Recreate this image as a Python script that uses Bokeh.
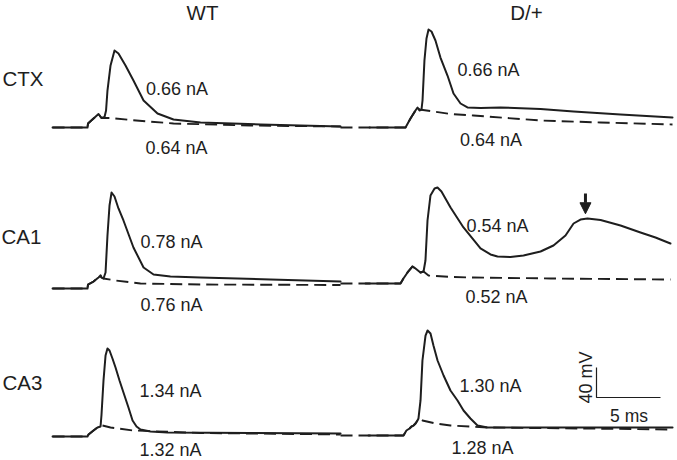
import math
from bokeh.plotting import figure
from bokeh.models import Range1d, Label, Arrow, NormalHead
from bokeh.embed import file_html
from bokeh.resources import INLINE

# ---------------- data (time in ms from stimulus onset, voltage in mV above baseline) ----------------
columns = ["WT", "D/+"]
rows = ["CTX", "CA1", "CA3"]

# WT CTX
wt_ctx_t = [-2.73, 0, 0.04, 0.47, 0.86, 1.09, 1.33, 1.45, 1.56, 1.80, 2.11, 2.42, 2.97, 3.59, 4.38, 5.47, 6.72, 8.83, 13.52, 19.77]
wt_ctx_v = [0, 0, 5.3, 12, 18, 12.7, 14, 22.7, 49.3, 82.7, 102.7, 98.7, 82.7, 62.7, 36, 18.7, 10.7, 6.7, 4, 1.3]
wt_ctx_dt = [-2.73, 0, 0.04, 0.47, 0.86, 1.09, 1.80, 3.36, 6.72, 12.73, 19.77]
wt_ctx_dv = [0, 0, 5.3, 12, 18, 12.7, 12.7, 10, 5.3, 2.7, 1.3]

# D/+ CTX
dp_ctx_t = [-2.81, 0, 0.39, 0.78, 0.94, 1.09, 1.25, 1.33, 1.48, 1.64, 1.80, 2.03, 2.34, 2.73, 3.28, 3.75, 4.30, 4.84, 5.86, 7.42, 10.55, 13.13, 16.80, 20.86]
dp_ctx_v = [0, 0, 12, 22.7, 26.7, 22.7, 24, 36, 89.3, 118.7, 130.7, 128, 116, 93.3, 69.3, 45.3, 32, 26.7, 26, 26.7, 24.7, 21.3, 17.3, 13.3]
dp_ctx_dt = [-5.08, 0, 0.39, 0.78, 0.94, 1.09, 1.95, 3.52, 5.31, 10.55, 15.23, 20.86]
dp_ctx_dv = [0, 0, 12, 22.7, 26.7, 24, 22, 18, 16, 9.3, 6.7, 4]

# WT CA1
wt_ca1_t = [-2.73, 0, 0.04, 0.47, 0.86, 1.02, 1.09, 1.25, 1.41, 1.56, 1.72, 1.88, 2.11, 2.42, 2.81, 3.59, 4.38, 5.16, 6.48, 8.83, 14.30, 19.77]
wt_ca1_v = [0, 0, 5.3, 9.3, 14.7, 17.3, 14.7, 13.3, 21.3, 70.7, 110.7, 128, 122.7, 106.7, 90.7, 54.7, 28, 18.7, 16, 14.7, 12, 9.3]
wt_ca1_dt = [-2.73, 0, 0.04, 0.47, 0.86, 1.02, 1.09, 1.25, 2.19, 4.14, 8.83, 19.77]
wt_ca1_dv = [0, 0, 5.3, 9.3, 14.7, 17.3, 14.7, 13.3, 10.7, 6.7, 5.3, 4.7]

# D/+ CA1
dp_ca1_t = [-2.73, 0, 0.23, 0.55, 0.94, 1.17, 1.56, 1.80, 1.95, 2.11, 2.34, 2.66, 2.89, 3.20, 3.91, 4.92, 6.25, 7.03, 7.58, 8.59, 9.61, 10.94, 11.95, 12.89, 13.52, 14.06, 14.61, 15.63, 17.19, 18.75, 19.92, 21.09]
dp_ca1_v = [0, 0, 6.7, 14.7, 22.7, 20, 14.7, 16, 30.7, 84, 117.3, 126.7, 128, 122.7, 101.3, 74.7, 46.7, 38.7, 36, 35.3, 37.3, 42.7, 50.7, 64, 80, 85.3, 86.7, 84.7, 77.3, 68, 61.3, 53.3]
dp_ca1_dt = [-4.69, 0, 0.23, 0.55, 0.94, 1.17, 1.56, 1.80, 2.19, 3.91, 5.70, 11.72, 21.09]
dp_ca1_dv = [0, 0, 6.7, 14.7, 22.7, 20, 14.7, 16, 10.7, 8.7, 8, 6.7, 5.3]
# arrow marking the late depolarisation (ms, mV)
arrow_t = 14.45
arrow_v_from = 120
arrow_v_to = 93

# WT CA3
wt_ca3_t = [-2.73, 0, 0.08, 0.47, 0.78, 1.02, 1.09, 1.25, 1.41, 1.56, 1.72, 1.95, 2.19, 2.50, 2.81, 3.20, 3.52, 3.83, 4.14, 4.92, 6.25, 12.73, 19.77]
wt_ca3_v = [0, 0, 2.7, 8, 12, 13.3, 28, 74.7, 108, 117.3, 114.7, 104, 92, 74.7, 58.7, 38.7, 21.3, 13.3, 9.3, 6.7, 5.3, 4.7, 4]
wt_ca3_dt = [-2.73, 0, 0.08, 0.47, 0.78, 1.02, 1.17, 1.80, 3.59, 8.83, 19.77]
wt_ca3_dv = [0, 0, 2.7, 8, 12, 13.3, 14.7, 12, 8, 4.7, 2.7]

# D/+ CA3
dp_ca3_t = [-2.73, 0, 0.23, 0.47, 0.63, 0.78, 0.94, 1.09, 1.17, 1.33, 1.48, 1.72, 1.88, 2.11, 2.34, 2.66, 3.13, 3.67, 4.22, 4.69, 5.23, 5.78, 6.56, 11.48, 21.02]
dp_ca3_v = [0, 0, 6.7, 9.3, 12, 13.3, 16, 20, 22.7, 46.7, 100, 133.3, 140, 136, 120, 100, 80, 60, 46.7, 33.3, 22.7, 13.3, 10.7, 10.7, 10.7]
dp_ca3_dt = [-4.92, 0, 0.23, 0.47, 0.63, 0.78, 0.94, 1.09, 1.17, 1.48, 2.50, 3.67, 6.56, 21.02]
dp_ca3_dv = [0, 0, 6.7, 9.3, 12, 13.3, 16, 20, 22.7, 20, 16, 13.3, 10.7, 8]

# current thresholds (solid, dashed)
wt_ctx_labels = ["0.66 nA", "0.64 nA"]
dp_ctx_labels = ["0.66 nA", "0.64 nA"]
wt_ca1_labels = ["0.78 nA", "0.76 nA"]
dp_ca1_labels = ["0.54 nA", "0.52 nA"]
wt_ca3_labels = ["1.34 nA", "1.32 nA"]
dp_ca3_labels = ["1.30 nA", "1.28 nA"]

scale_mv = 40
scale_ms = 5
scale_labels = ["40 mV", "5 ms"]

# ---------------- layout (reference pixel geometry) ----------------
PX_PER_MS = 12.8
PX_PER_MV = 0.75
W, H = 677, 460

def X(px):
    return px / PX_PER_MS

def Y(py):
    return (H - py) / PX_PER_MV

FONT = "Liberation Sans"
INK = "#1e1e1e"

p = figure(width=W, height=H,
           x_range=Range1d(X(0), X(W)), y_range=Range1d(Y(H), Y(0)),
           output_backend="svg", toolbar_location=None,
           x_axis_location=None, y_axis_location=None,
           min_border=0, outline_line_color=None)
p.grid.visible = False
p.background_fill_color = "white"

panels = [
    # onset px, baseline py, solid t, v, dashed t, v, labels, label positions (center x, center y)
    (87, 127, wt_ctx_t, wt_ctx_v, wt_ctx_dt, wt_ctx_dv, wt_ctx_labels, [(176.5, 88.8), (176, 147.5)]),
    (405, 127, dp_ctx_t, dp_ctx_v, dp_ctx_dt, dp_ctx_dv, dp_ctx_labels, [(488, 69.7), (490.5, 139.5)]),
    (87, 288, wt_ca1_t, wt_ca1_v, wt_ca1_dt, wt_ca1_dv, wt_ca1_labels, [(171, 241.7), (171, 304.5)]),
    (400, 283, dp_ca1_t, dp_ca1_v, dp_ca1_dt, dp_ca1_dv, dp_ca1_labels, [(497, 225.5), (496, 296)]),
    (87, 436, wt_ca3_t, wt_ca3_v, wt_ca3_dt, wt_ca3_dv, wt_ca3_labels, [(170, 390), (170, 449.5)]),
    (403, 435, dp_ca3_t, dp_ca3_v, dp_ca3_dt, dp_ca3_dv, dp_ca3_labels, [(490, 385), (482, 447)]),
]

for onset, base, t, v, dt, dv, labs, lpos in panels:
    x0, y0 = X(onset), Y(base)
    p.line([x0 + a for a in dt], [y0 + b for b in dv], line_color=INK, line_width=1.9,
           line_dash="12 6", line_join="round")
    p.line([x0 + a for a in t], [y0 + b for b in v], line_color=INK, line_width=2.0,
           line_join="round", line_cap="round")
    for txt, (lx, ly) in zip(labs, lpos):
        p.add_layout(Label(x=X(lx), y=Y(ly), text=txt, text_align="center",
                           text_baseline="alphabetic", text_font=FONT,
                           text_font_size="18px", text_color=INK))

# arrow in D/+ CA1 panel
ax0, ay0 = X(400), Y(283)
p.add_layout(Arrow(x_start=ax0 + arrow_t, y_start=ay0 + arrow_v_from,
                   x_end=ax0 + arrow_t, y_end=ay0 + arrow_v_to,
                   line_width=3, line_color=INK,
                   end=NormalHead(size=11, fill_color=INK, line_color=INK, line_width=1)))

# column and row headers
for txt, (lx, ly) in zip(columns, [(202, 11.5), (526, 11.5)]):
    p.add_layout(Label(x=X(lx), y=Y(ly), text=txt, text_align="center", text_baseline="alphabetic",
                       text_font=FONT, text_font_size="20.5px", text_color=INK))
for txt, (lx, ly) in zip(rows, [(22.5, 77.5), (21, 236), (22, 381.7)]):
    p.add_layout(Label(x=X(lx), y=Y(ly), text=txt, text_align="center", text_baseline="alphabetic",
                       text_font=FONT, text_font_size="20.5px", text_color=INK))

# scale bar
sx, sy = X(596), Y(397)
p.line([sx, sx, sx + scale_ms], [sy + scale_mv, sy, sy], line_color=INK, line_width=1.2)
p.add_layout(Label(x=X(585), y=Y(377), text=scale_labels[0], angle=math.pi / 2,
                   text_align="center", text_baseline="middle", text_font=FONT,
                   text_font_size="18px", text_color=INK))
p.add_layout(Label(x=X(628.5), y=Y(415), text=scale_labels[1], text_align="center",
                   text_baseline="alphabetic", text_font=FONT, text_font_size="17.5px", text_color=INK))

open("out.html", "w").write(file_html(p, INLINE))
